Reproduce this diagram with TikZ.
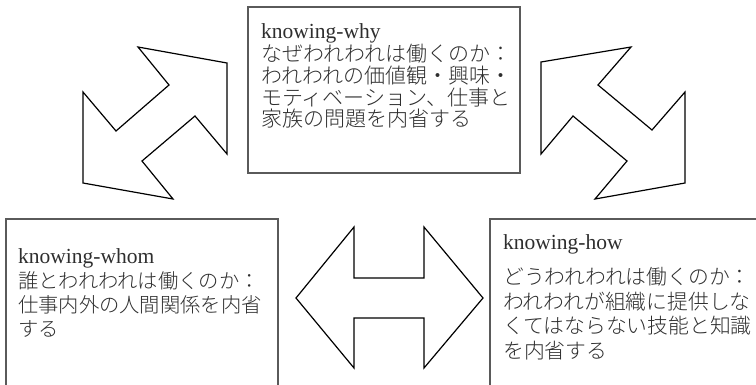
\documentclass[tikz,border=0pt]{standalone}
\usepackage{fontspec}
\setmainfont{Liberation Serif}
\newfontfamily\jp{Noto Sans CJK JP Light}
\definecolor{boxgray}{HTML}{5A5A5A}
\definecolor{txt}{HTML}{2E2E2E}
\begin{document}
\begin{tikzpicture}[x=1pt,y=-1pt,
  boxline/.style={draw=boxgray,line width=1.3pt},
  arrowshape/.style={draw=black,line width=1.2pt,line join=miter},
  lat/.style={anchor=base west,inner sep=0pt,text=txt,font=\fontsize{21.5}{22}\selectfont},
  jpa/.style={anchor=base west,inner sep=0pt,text=txt,font=\jp\fontsize{21}{22}\selectfont},
  jpb/.style={anchor=base west,inner sep=0pt,text=txt,font=\jp\fontsize{20.3}{22}\selectfont},
  jpc/.style={anchor=base west,inner sep=0pt,text=txt,font=\jp\fontsize{20.8}{22}\selectfont}]
\useasboundingbox (0,0) rectangle (756,384);
\clip (0,0) rectangle (756,384);
% top box
\draw[boxline] (248,7) rectangle (520,173);
\node[lat] (w0) at (261,38) {knowing-why};
\node[jpa] (w1) at (261,61) {なぜわれわれは働くのか：};
\node[jpa] (w2) at (261,83) {われわれの価値観・興味・};
\node[jpa] (w3) at (261,105) {モティベーション、仕事と};
\node[jpa] (w4) at (261,126.5) {家族の問題を内省する};
% bottom-left box
\draw[boxline] (6,390) -- (6,219) -- (278,219) -- (278,390);
\node[lat] (m0) at (18,263) {knowing-whom};
\node[jpb] (m1) at (18,288.5) {誰とわれわれは働くのか：};
\node[jpb] (m2) at (18,312.5) {仕事内外の人間関係を内省};
\node[jpb] (m3) at (18,336) {する};
% bottom-right box
\draw[boxline] (490,390) -- (490,219) -- (760,219);
\node[lat] (h0) at (503,249) {knowing-how};
\node[jpc] (h1) at (503,284.5) {どうわれわれは働くのか：};
\node[jpc] (h2) at (503,309) {われわれが組織に提供しな};
\node[jpc] (h3) at (503,333.5) {くてはならない技能と知識};
\node[jpc] (h4) at (503,358) {を内省する};
% left diagonal double arrow
\draw[arrowshape] (138,47) -- (227,63) -- (227,154) -- (195,116) -- (142,161)
  -- (173,199) -- (83,183) -- (83,92) -- (116,131) -- (169,85) -- cycle;
% right diagonal double arrow
\draw[arrowshape] (631,47) -- (541,62) -- (541,154) -- (573,116) -- (627,161)
  -- (595,199) -- (685,183) -- (685,92) -- (652,130) -- (598,85) -- cycle;
% horizontal double arrow
\draw[arrowshape] (296,298) -- (354,227) -- (354,278) -- (424,278) -- (424,227)
  -- (483,298) -- (424,368) -- (424,318) -- (354,318) -- (354,368) -- cycle;
\end{tikzpicture}
\end{document}
